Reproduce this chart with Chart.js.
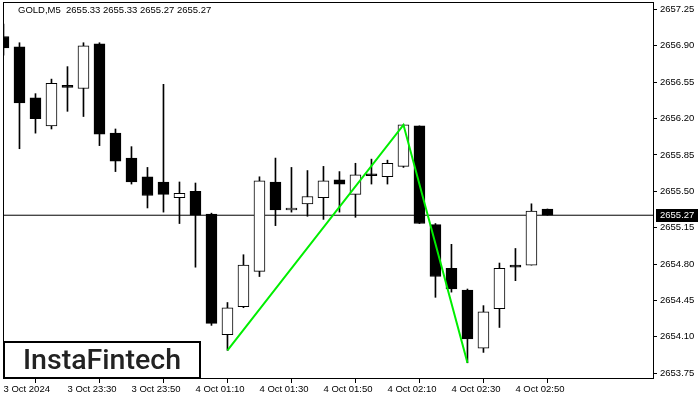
<!DOCTYPE html>
<html>
<head>
<meta charset="utf-8">
<script src="https://cdn.jsdelivr.net/npm/chart.js@4.4.1/dist/chart.umd.min.js"></script>
<style>
  body { margin: 0; background: #fff; }
  canvas { display: block; }
</style>
</head>
<body>
<canvas id="myChart" width="700" height="400"></canvas>
<script>
// GOLD M5 candles, 3 Oct 23:10 .. 4 Oct 03:00 (market break between 23:55 and 01:00)
const opens  = [2656.99, 2656.89, 2656.40, 2656.13, 2656.51, 2656.49, 2656.92, 2656.06, 2655.82, 2655.64,
                2655.59, 2655.44, 2655.50, 2655.28, 2654.12, 2654.39, 2654.73, 2655.59, 2655.32, 2655.38,
                2655.44, 2655.61, 2655.47, 2655.65, 2655.64, 2655.74, 2656.13, 2655.18, 2654.76, 2654.55,
                2653.99, 2654.37, 2654.77, 2654.79, 2655.33];
const highs  = [2657.11, 2656.93, 2656.44, 2656.58, 2656.70, 2656.93, 2656.93, 2656.10, 2655.93, 2655.73,
                2656.53, 2655.59, 2655.58, 2655.29, 2654.43, 2654.89, 2655.64, 2655.82, 2655.73, 2655.70,
                2655.74, 2655.69, 2655.77, 2655.81, 2655.80, 2656.14, 2656.13, 2655.19, 2654.99, 2654.56,
                2654.40, 2654.81, 2654.95, 2655.38, 2655.33];
const lows   = [2656.81, 2655.91, 2656.06, 2656.10, 2656.27, 2656.22, 2655.94, 2655.69, 2655.57, 2655.34,
                2655.30, 2655.19, 2654.77, 2654.21, 2653.97, 2654.38, 2654.68, 2655.17, 2655.30, 2655.26,
                2655.23, 2655.30, 2655.25, 2655.57, 2655.57, 2655.73, 2655.19, 2654.48, 2654.53, 2653.85,
                2653.95, 2654.19, 2654.64, 2654.79, 2655.27];
const closes = [2656.88, 2656.35, 2656.20, 2656.54, 2656.50, 2656.90, 2656.05, 2655.79, 2655.59, 2655.46,
                2655.47, 2655.48, 2655.27, 2654.23, 2654.38, 2654.79, 2655.60, 2655.32, 2655.34, 2655.45,
                2655.60, 2655.57, 2655.66, 2655.65, 2655.77, 2656.14, 2655.19, 2654.68, 2654.56, 2654.08,
                2654.34, 2654.76, 2654.77, 2655.31, 2655.27];

const xTickIdx    = [0, 4, 8, 12, 16, 20, 24, 28, 32];
const xTickLabels = ['3 Oct 2024', '3 Oct 23:30', '3 Oct 23:50', '4 Oct 01:10', '4 Oct 01:30',
                     '4 Oct 01:50', '4 Oct 02:10', '4 Oct 02:30', '4 Oct 02:50'];
const yTicks = [2653.75, 2654.10, 2654.45, 2654.80, 2655.15, 2655.50, 2655.85, 2656.20, 2656.55, 2656.90, 2657.25];

// pattern: low -> high -> low
const patternIdx = [14, 25, 29];
const patternVal = [lows[14], highs[25], lows[29]];

const xMin = -0.03, xMax = 40.66;
const yMin = 2653.694, yMax = 2657.322;
const lastPrice = closes[closes.length - 1];
const font = 'Liberation Sans';

const wicks = highs.map((h, i) => ({ x: i, y: [lows[i], h] }));
const bodies = opens.map((o, i) => ({ x: i, y: [o, closes[i]] }));
const bodyFill = opens.map((o, i) => closes[i] > o ? '#ffffff' : '#000000');

const overlay = {
    id: 'overlay',
    afterDraw(chart) {
        const { ctx, chartArea: a } = chart;
        ctx.save();
        // frame
        ctx.strokeStyle = '#000';
        ctx.lineWidth = 1;
        ctx.strokeRect(a.left + 0.5, a.top + 0.5, a.right - a.left - 1, a.bottom - a.top - 1);

        // header
        ctx.fillStyle = '#000';
        ctx.font = '9.5px "' + font + '"';
        ctx.textBaseline = 'middle';
        ctx.textAlign = 'left';
        ctx.fillText('GOLD,M5  2655.33 2655.33 2655.27 2655.27', 18, 10);

        // price label
        const py = chart.scales.y.getPixelForValue(lastPrice);
        ctx.fillStyle = '#000';
        ctx.fillRect(656, Math.round(py) - 6, 42, 13);
        ctx.fillStyle = '#fff';
        ctx.fillText(lastPrice.toFixed(2), 660, Math.round(py) + 0.5);

        // logo
        ctx.fillStyle = '#fff';
        ctx.fillRect(3, 341, 198, 37);
        ctx.strokeStyle = '#000';
        ctx.lineWidth = 2;
        ctx.strokeRect(4, 342, 196, 36);
        ctx.fillStyle = '#222';
        ctx.font = '500 28px Roboto';
        ctx.textBaseline = 'alphabetic';
        const txt = 'InstaFintech';
        const w = ctx.measureText(txt).width;
        ctx.translate(23, 369);
        ctx.scale(158 / w, 1);
        ctx.fillText(txt, 0, 0);
        ctx.restore();
    }
};

const config = {
    data: {
        datasets: [
            {
                type: 'line',
                data: patternIdx.map((x, i) => ({ x: x, y: patternVal[i] })),
                borderColor: '#00ee00',
                borderWidth: 2,
                pointRadius: 0,
                tension: 0,
                order: 0
            },
            {
                type: 'bar',
                data: bodies,
                backgroundColor: bodyFill,
                borderColor: '#000',
                borderWidth: 1,
                borderSkipped: false,
                barThickness: 11,
                minBarLength: 2,
                grouped: false,
                order: 1
            },
            {
                type: 'bar',
                data: wicks,
                backgroundColor: '#000',
                borderWidth: 0,
                barThickness: 1,
                grouped: false,
                order: 2
            },
            {
                type: 'line',
                data: [{ x: xMin, y: lastPrice }, { x: xMax, y: lastPrice }],
                borderColor: '#000',
                borderWidth: 1,
                pointRadius: 0,
                order: 3
            }
        ]
    },
    options: {
        responsive: false,
        animation: false,
        events: [],
        layout: { padding: { left: 3, top: 2, right: 0, bottom: 0 } },
        plugins: { legend: { display: false }, tooltip: { enabled: false } },
        scales: {
            x: {
                type: 'linear',
                min: xMin,
                max: xMax,
                offset: false,
                border: { display: false },
                grid: { drawOnChartArea: false, drawTicks: true, tickLength: 4, color: '#000' },
                afterBuildTicks: (s) => { s.ticks = xTickIdx.map(v => ({ value: v })); },
                afterFit: (s) => { s.height = 21; s.paddingLeft = 0; s.paddingRight = 0; },
                ticks: {
                    autoSkip: false,
                    maxRotation: 0,
                    align: 'start',
                    padding: 1,
                    color: '#000',
                    font: { family: font, size: 9.5 },
                    callback: (v) => xTickLabels[xTickIdx.indexOf(v)]
                }
            },
            y: {
                position: 'right',
                min: yMin,
                max: yMax,
                border: { display: false },
                grid: { drawOnChartArea: false, drawTicks: true, tickLength: 3, color: '#000' },
                afterBuildTicks: (s) => { s.ticks = yTicks.map(v => ({ value: v })); },
                afterFit: (s) => { s.width = 46; s.paddingTop = 0; s.paddingBottom = 0; },
                ticks: {
                    padding: 3,
                    color: '#000',
                    font: { family: font, size: 9.5 },
                    callback: (v) => v.toFixed(2)
                }
            }
        }
    },
    plugins: [overlay]
};

window.onload = () => new Chart(document.getElementById('myChart'), config);
</script>
</body>
</html>
